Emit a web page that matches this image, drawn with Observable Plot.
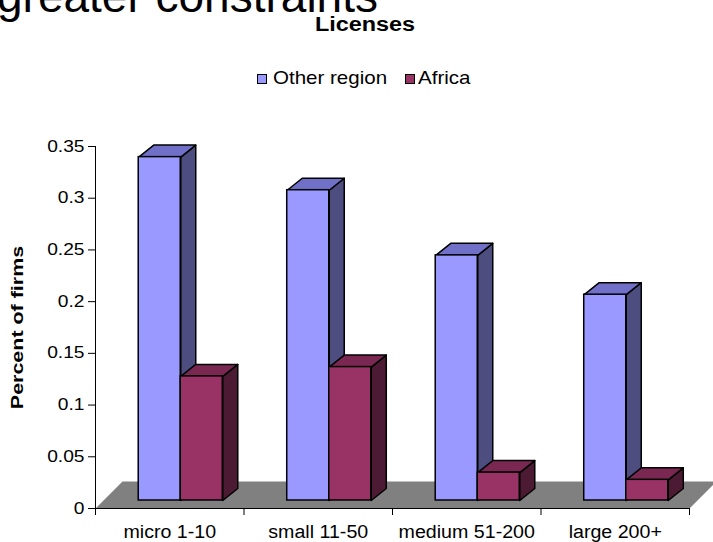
<!DOCTYPE html>
<html>
<head>
<meta charset="utf-8">
<script src="https://cdn.jsdelivr.net/npm/d3@7"></script>
<script src="https://cdn.jsdelivr.net/npm/@observablehq/plot@0.6"></script>
<style>
  html, body { margin: 0; padding: 0; background: #fff; }
  #wrap { position: relative; width: 713px; height: 542px; overflow: hidden;
          font-family: "Liberation Sans", Arial, sans-serif; color: #000; }
  #wrap > svg { position: absolute; left: 0; top: 0; }
  .lbl { position: absolute; white-space: nowrap; line-height: 1; }
  .sw { position: absolute; width: 8px; height: 8px; border: 1.5px solid #000; }
</style>
</head>
<body>
<div id="wrap">
  <div class="lbl" id="slide">greater constraints</div>
  <div class="lbl" id="title">Licenses</div>
  <div id="legend"></div>
</div>
<script>
// Share of firms citing licenses as a constraint, by firm size
const categories = ["micro 1-10", "small 11-50", "medium 51-200", "large 200+"];
const otherRegion = [0.332, 0.300, 0.237, 0.199];
const africa = [0.120, 0.129, 0.027, 0.020];
const seriesNames = ["Other region", "Africa"];
const yTicks = [0, 0.05, 0.1, 0.15, 0.2, 0.25, 0.3, 0.35];
const yTitle = "Percent of firms";

// Face colours for each series: front, top, side
const faces = [
  {front: "#9999ff", top: "#7070c8", side: "#4d4d80"},
  {front: "#993366", top: "#7a2852", side: "#4d1a33"}
];

// Layout
const W = 713, H = 542, mL = 95, mR = 24, mT = 146, mB = 34, yMax = 0.35;
const xUnit = (W - mL - mR) / categories.length;   // px per category band
const yUnit = (H - mT - mB) / yMax;                 // px per unit of share
const px2x = p => p / xUnit, px2y = p => p / yUnit;

const barW = 0.283;                        // bar width as share of band
const liftX = px2x(11), liftY = px2y(8);   // bars stand back from the floor edge
const depX = px2x(15), depY = px2y(12);    // bar depth
const floorX = px2x(27), floorY = px2y(27);

// Floor polygon
const n = categories.length;
const floor = [[0, 0], [n, 0], [n + floorX, floorY], [floorX, floorY], [0, 0]]
  .map(([x, y]) => ({x, y, k: 0}));

// Boxes for each series
function boxes(values, s) {
  const fronts = [], tops = [], sides = [];
  values.forEach((v, i) => {
    const x0 = i + 0.5 - barW + s * barW + liftX, x1 = x0 + barW;
    const b = liftY, t = liftY + v;
    fronts.push({x1: x0, x2: x1, y1: b, y2: t});
    [[x0, t], [x1, t], [x1 + depX, t + depY], [x0 + depX, t + depY], [x0, t]]
      .forEach(([x, y]) => tops.push({x, y, k: i}));
    [[x1, b], [x1 + depX, b + depY], [x1 + depX, t + depY], [x1, t], [x1, b]]
      .forEach(([x, y]) => sides.push({x, y, k: i}));
  });
  return {fronts, tops, sides};
}

const series = [otherRegion, africa].map((vals, s) => boxes(vals, s));
const sw = 1.5;

const barMarks = series.flatMap((b, s) => [
  Plot.line(b.sides, {x: "x", y: "y", z: "k", fill: faces[s].side, stroke: "#000", strokeWidth: sw, strokeLinejoin: "round"}),
  Plot.line(b.tops, {x: "x", y: "y", z: "k", fill: faces[s].top, stroke: "#000", strokeWidth: sw, strokeLinejoin: "round"}),
  Plot.rect(b.fronts, {x1: "x1", x2: "x2", y1: "y1", y2: "y2", fill: faces[s].front, stroke: "#000", strokeWidth: sw})
]);

const chart = Plot.plot({
  width: W, height: H,
  marginLeft: mL, marginRight: mR, marginTop: mT, marginBottom: mB,
  style: {fontFamily: '"Liberation Sans", Arial, sans-serif', fontSize: "16px", color: "#000", background: "transparent", overflow: "visible"},
  x: {domain: [0, n], axis: null},
  y: {domain: [0, yMax], ticks: yTicks, tickFormat: d => String(+d.toFixed(2)), tickSize: 7, tickPadding: 4, label: null},
  marks: [
    Plot.line(floor, {x: "x", y: "y", z: "k", fill: "#808080", stroke: "none"}),
    Plot.ruleY([0], {x1: 0, x2: n, stroke: "#000", strokeWidth: 1.2}),
    Plot.ruleX([0], {y1: 0, y2: yMax, stroke: "#000", strokeWidth: 1}),
    Plot.ruleX(d3.range(n + 1), {y1: 0, y2: -px2y(7), stroke: "#000", strokeWidth: 1}),
    ...barMarks,
    Plot.text(categories, {x: (d, i) => i + 0.5, y: () => 0, dy: 24, text: d => d, fontSize: 18}),
    Plot.text([yTitle], {frameAnchor: "left", textAnchor: "middle", dx: -78, rotate: -90, text: d => d, fontWeight: "bold", fontSize: 16.5})
  ]
});

const wrap = document.getElementById("wrap");
wrap.insertBefore(chart, wrap.firstChild);

// Widen the chart's text slightly, as in the original typesetting
d3.select(chart).selectAll("text").each(function() {
  const t = this.textContent;
  const f = t === yTitle ? 1.3 : categories.includes(t) ? 1.09 : 1.2;
  const len = this.getComputedTextLength();
  if (len > 0) {
    this.setAttribute("textLength", len * f);
    this.setAttribute("lengthAdjust", "spacingAndGlyphs");
  }
});

// Header texts (baseline = top + 0.8465 * size with line-height 1)
const place = (el, size, baseline) => { el.style.fontSize = size + "px"; el.style.top = (baseline - 0.8465 * size) + "px"; };
const slide = document.getElementById("slide");
place(slide, 46, 12); slide.style.left = "-3px";
const title = document.getElementById("title");
place(title, 19.5, 31.5); title.style.fontWeight = "bold";
title.style.left = "365px"; title.style.transformOrigin = "center";
title.style.transform = "translateX(-50%) scaleX(1.2)";

// Legend
const legend = document.getElementById("legend");
const legendPos = [{sw: 257, tx: 273}, {sw: 405, tx: 418}];
seriesNames.forEach((name, s) => {
  const box = document.createElement("div");
  box.className = "sw";
  box.style.left = legendPos[s].sw + "px"; box.style.top = "74px";
  box.style.background = faces[s].front;
  legend.appendChild(box);
  const lab = document.createElement("div");
  lab.className = "lbl"; lab.textContent = name;
  place(lab, 19, 84);
  lab.style.left = legendPos[s].tx + "px";
  lab.style.transformOrigin = "left center"; lab.style.transform = "scaleX(1.08)";
  legend.appendChild(lab);
});
</script>
</body>
</html>
